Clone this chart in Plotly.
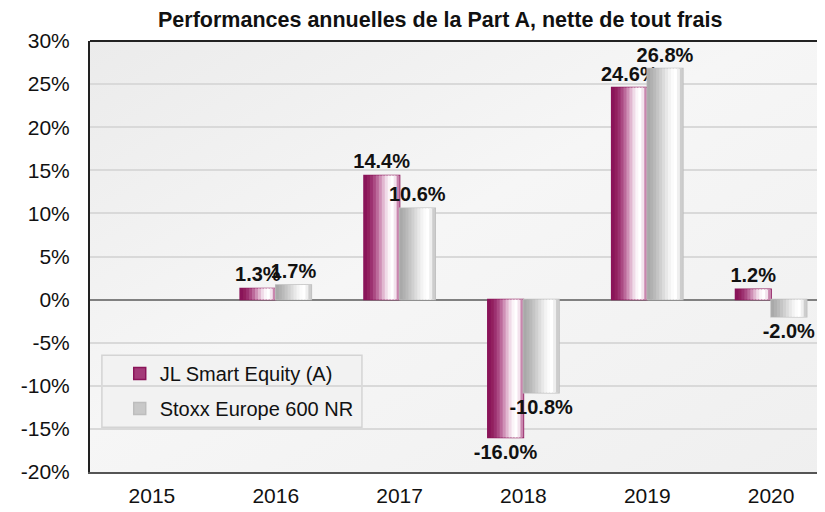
import plotly.graph_objects as go

years = ["2015", "2016", "2017", "2018", "2019", "2020"]
jl_values = [None, 1.3, 14.4, -16.0, 24.6, 1.2]
stoxx_values = [None, 1.7, 10.6, -10.8, 26.8, -2.0]
series_names = ["JL Smart Equity (A)", "Stoxx Europe 600 NR"]
title_text = "Performances annuelles de la Part A, nette de tout frais"
y_ticks = [-20, -15, -10, -5, 0, 5, 10, 15, 20, 25, 30]

W = 0.2875  # bar width in category units
FONT = "Liberation Sans, Arial"

jl_grad = ["#8a1459", "#92205f", "#9c3170", "#ab4a83", "#bc6a9b", "#cf90b6",
           "#e1b7d0", "#f0dbe8", "#fbf4f8", "#ffffff", "#f3e3ed", "#c986ae"]
st_grad = ["#a9a9a9", "#b1b1b1", "#bababa", "#c5c5c5", "#d0d0d0", "#dcdcdc",
           "#e8e8e8", "#f3f3f3", "#fbfbfb", "#ffffff", "#efefef", "#cdcdcd"]

fig = go.Figure()

def add_series(values, name, base_color, line_color, grad, off):
    fig.add_trace(go.Bar(
        x=years, y=values, name=name, offset=off, width=W,
        marker=dict(color=base_color, line=dict(color=line_color, width=1.5)),
        text=[None if v is None else f"<b>{v:.1f}%</b>" for v in values],
        textposition="outside", cliponaxis=False, constraintext="none",
        textfont=dict(family=FONT, size=20, color="#111111"),
        legendgroup=name, hoverinfo="skip",
    ))
    n = len(grad)
    step = W / n
    for i, c in enumerate(grad):
        start = off + i * step
        w = min(step * 1.6, off + W - start)
        fig.add_trace(go.Bar(
            x=years, y=values, offset=start, width=w,
            marker=dict(color=c, line=dict(width=0)),
            showlegend=False, hoverinfo="skip", legendgroup=name,
        ))

add_series(jl_values, series_names[0], "#a33a78", "#8a1459", jl_grad, -W)
add_series(stoxx_values, series_names[1], "#c8c8c8", "#bdbdbd", st_grad, 0.0)

bg_svg = ("data:image/svg+xml;utf8,"
          "<svg xmlns='http://www.w3.org/2000/svg' width='100' height='100' preserveAspectRatio='none'>"
          "<defs><linearGradient id='g' x1='0' y1='0' x2='1' y2='1'>"
          "<stop offset='0' stop-color='%23ebebeb'/>"
          "<stop offset='0.45' stop-color='%23f6f6f6'/>"
          "<stop offset='1' stop-color='%23efefef'/>"
          "</linearGradient></defs>"
          "<rect width='100' height='100' fill='url(%23g)'/></svg>")

fig.update_layout(
    width=825, height=512,
    margin=dict(l=82, r=0, t=33, b=48),
    paper_bgcolor="white",
    plot_bgcolor="rgba(0,0,0,0)",
    barmode="overlay",
    showlegend=True,
    font=dict(family=FONT, color="#111111"),
    images=[dict(source=bg_svg, xref="paper", yref="paper", x=0, y=1,
                 sizex=1, sizey=1, sizing="stretch", layer="below")],
    legend=dict(x=0.040, y=0.274, xanchor="left", yanchor="top",
                bgcolor="rgba(0,0,0,0)", borderwidth=0,
                font=dict(size=20, color="#111111"), tracegroupgap=6,
                itemwidth=30),
    shapes=[
        dict(type="rect", xref="paper", yref="paper", x0=0.016, x1=0.366,
             y0=0.104, y1=0.271, line=dict(color="#d4d4d4", width=1.5),
             fillcolor="#f2f2f2", layer="below"),
        dict(type="line", xref="paper", yref="paper", x0=0, x1=1, y0=1, y1=1,
             line=dict(color="#222222", width=2)),
    ],
    annotations=[dict(text="<b>" + title_text + "</b>", xref="paper", yref="paper",
                      x=0.471, y=1, yshift=21, showarrow=False,
                      xanchor="center", yanchor="middle",
                      font=dict(size=21.5, color="#111111", family=FONT))],
)

fig.update_xaxes(type="category", categoryorder="array", categoryarray=years,
                 range=[-0.5, 5.5], showgrid=False, zeroline=False,
                 showline=True, linecolor="#555555", linewidth=2,
                 ticks="", tickfont=dict(size=21, color="#111111"),
                 ticklabelstandoff=4)
fig.update_yaxes(range=[-20, 30], tickvals=y_ticks,
                 ticktext=[f"{v}%" for v in y_ticks],
                 showgrid=True, gridcolor="#d9d9d9", gridwidth=2,
                 zeroline=True, zerolinecolor="#808080", zerolinewidth=1.5,
                 showline=True, linecolor="#222222", linewidth=2,
                 ticks="", tickfont=dict(size=21, color="#111111"),
                 ticklabelstandoff=14)

fig.write_html("out.html")
